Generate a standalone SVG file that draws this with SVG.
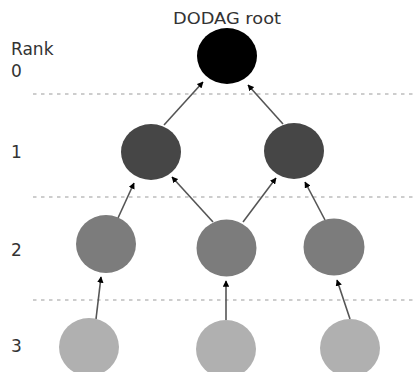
<svg xmlns="http://www.w3.org/2000/svg" width="414" height="372" viewBox="0 0 414 372">
<style>
.lbl{font-family:"DejaVu Sans","Verdana",sans-serif;fill:#333}
.rank{font-size:17px}
.sep{stroke:#bdbdbd;stroke-width:1.6;stroke-dasharray:3.5 4.5}
.edge{stroke:#555;stroke-width:1.6;fill:none;marker-end:url(#ah)}
.r0{fill:#000}
.r1{fill:#464646}
.r2{fill:#7c7c7c}
.r3{fill:#b0b0b0}
</style>
<defs>
<marker id="ah" viewBox="0 0 10 10" refX="9" refY="5" markerWidth="4" markerHeight="4" orient="auto" markerUnits="strokeWidth">
<path d="M0,0 L10,5 L0,10 z" fill="#000"/>
</marker>
</defs>
<rect width="414" height="372" fill="#fff"/>
<g id="separators">
<line class="sep" x1="33" y1="94" x2="414" y2="94"/>
<line class="sep" x1="33" y1="197" x2="414" y2="197"/>
<line class="sep" x1="33" y1="300" x2="414" y2="300"/>
</g>
<g id="labels">
<text class="lbl" x="227" y="24" font-size="15" text-anchor="middle" textLength="108" lengthAdjust="spacingAndGlyphs">DODAG root</text>
<text class="lbl rank" x="11" y="55">Rank</text>
<text class="lbl rank" x="11" y="77">0</text>
<text class="lbl rank" x="11" y="158">1</text>
<text class="lbl rank" x="11" y="256">2</text>
<text class="lbl rank" x="11" y="352">3</text>
</g>
<g id="connectors">
<line class="edge" x1="164" y1="125" x2="203" y2="82"/>
<line class="edge" x1="283" y1="124" x2="248" y2="85"/>
<line class="edge" x1="118" y1="218" x2="134" y2="183"/>
<line class="edge" x1="213" y1="222" x2="172" y2="177"/>
<line class="edge" x1="243" y1="222" x2="276" y2="178"/>
<line class="edge" x1="325" y1="220" x2="305" y2="182"/>
<line class="edge" x1="96" y1="319" x2="101" y2="277"/>
<line class="edge" x1="226" y1="320" x2="226" y2="281"/>
<line class="edge" x1="350" y1="319" x2="337" y2="280"/>
</g>
<g id="root"><ellipse class="r0" cx="227" cy="56" rx="30" ry="28"/></g>
<g id="n1a"><ellipse class="r1" cx="151" cy="152" rx="30" ry="28"/></g>
<g id="n1b"><ellipse class="r1" cx="294" cy="151" rx="30" ry="28"/></g>
<g id="n2a"><ellipse class="r2" cx="106" cy="244" rx="30" ry="29"/></g>
<g id="n2b"><ellipse class="r2" cx="226.5" cy="248" rx="30" ry="28.5"/></g>
<g id="n2c"><ellipse class="r2" cx="334" cy="247" rx="30.5" ry="28.5"/></g>
<g id="n3a"><ellipse class="r3" cx="89" cy="347" rx="30" ry="29"/></g>
<g id="n3b"><ellipse class="r3" cx="226" cy="349" rx="30" ry="29"/></g>
<g id="n3c"><ellipse class="r3" cx="350" cy="348" rx="30" ry="29"/></g>
</svg>
